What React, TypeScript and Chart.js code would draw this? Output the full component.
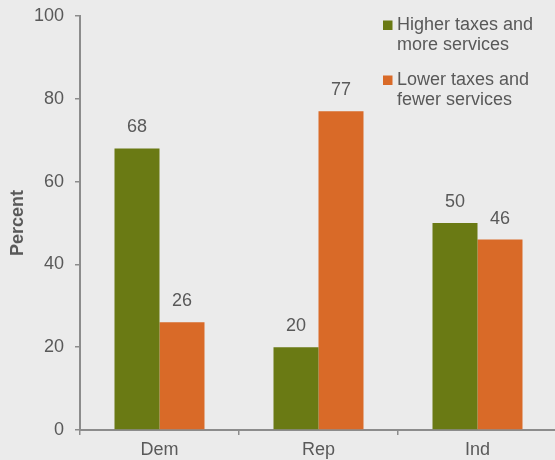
import React, { useEffect, useRef } from "react";
import { Chart, registerables } from "chart.js";

Chart.register(...registerables);

const categories = ["Dem", "Rep", "Ind"];
const higherTaxes = [68, 20, 50];
const lowerTaxes = [26, 77, 46];
const higherLabel = ["Higher taxes and", "more services"];
const lowerLabel = ["Lower taxes and", "fewer services"];
const yTicks = [0, 20, 40, 60, 80, 100];

const GREEN = "#6a7a14";
const ORANGE = "#d96a28";
const TEXT = "#595959";
const AXIS = "#8c8c8c";
const FONT = "Arial, 'Liberation Sans', sans-serif";

const valueLabels = {
  id: "valueLabels",
  afterDatasetsDraw(chart: any) {
    const ctx = chart.ctx;
    ctx.save();
    ctx.font = `18px ${FONT}`;
    ctx.fillStyle = TEXT;
    ctx.textAlign = "center";
    ctx.textBaseline = "middle";
    chart.data.datasets.forEach((ds: any, i: number) => {
      const meta = chart.getDatasetMeta(i);
      meta.data.forEach((bar: any, j: number) => {
        ctx.fillText(String(ds.data[j]), bar.x, bar.y - 21);
      });
    });
    ctx.restore();
  },
};

const customLegend = {
  id: "customLegend",
  afterDraw(chart: any) {
    const ctx = chart.ctx;
    ctx.save();
    ctx.font = `18px ${FONT}`;
    ctx.textBaseline = "middle";
    ctx.textAlign = "left";
    const startY = 25;
    chart.data.datasets.forEach((ds: any, i: number) => {
      const y0 = startY + i * 55;
      ctx.fillStyle = ds.backgroundColor;
      ctx.fillRect(383, y0 - 4.5, 9.5, 9.5);
      ctx.fillStyle = TEXT;
      (ds.label as string[]).forEach((line: string, k: number) => {
        ctx.fillText(line, 397, y0 + k * 20);
      });
    });
    ctx.restore();
  },
};

export default function App() {
  const canvasRef = useRef<HTMLCanvasElement | null>(null);

  useEffect(() => {
    if (!canvasRef.current) return;
    const chart = new Chart(canvasRef.current, {
      type: "bar",
      data: {
        labels: categories,
        datasets: [
          {
            label: higherLabel as any,
            data: higherTaxes,
            backgroundColor: GREEN,
            categoryPercentage: 0.566,
            barPercentage: 1,
          },
          {
            label: lowerLabel as any,
            data: lowerTaxes,
            backgroundColor: ORANGE,
            categoryPercentage: 0.566,
            barPercentage: 1,
          },
        ],
      },
      options: {
        animation: false,
        responsive: false,
        maintainAspectRatio: false,
        layout: { padding: { top: 16, left: 0, right: 0, bottom: 0 } },
        plugins: {
          legend: { display: false },
          tooltip: { enabled: false },
        },
        scales: {
          x: {
            grid: {
              display: true,
              drawOnChartArea: false,
              drawTicks: true,
              tickLength: 5,
              color: AXIS,
              lineWidth: 1.5,
              offset: true,
            },
            border: { color: AXIS, width: 2 },
            ticks: {
              color: TEXT,
              font: { family: FONT, size: 18 },
              padding: 4,
            },
            afterFit: (scale: any) => {
              scale.height = 30;
              scale.paddingLeft = 0;
              scale.paddingRight = 0;
            },
          },
          y: {
            min: 0,
            max: 100,
            afterBuildTicks: (scale: any) => {
              scale.ticks = yTicks.map((v) => ({ value: v }));
            },
            grid: {
              display: true,
              drawOnChartArea: false,
              drawTicks: true,
              tickLength: 5,
              color: AXIS,
              lineWidth: 1.5,
            },
            border: { color: AXIS, width: 2 },
            ticks: {
              color: TEXT,
              font: { family: FONT, size: 18 },
              padding: 11,
            },
            title: {
              display: true,
              text: "Percent",
              color: TEXT,
              font: { family: FONT, size: 18, weight: "bold" },
              padding: { top: 7, bottom: 0 },
            },
            afterFit: (scale: any) => {
              scale.width = 80;
              scale.paddingTop = 0;
              scale.paddingBottom = 0;
            },
          },
        },
      },
      plugins: [valueLabels, customLegend],
    });
    return () => chart.destroy();
  }, []);

  return (
    <div style={{ position: "fixed", left: 0, top: 0, width: 557, height: 460, background: "#ebebeb" }}>
      <canvas ref={canvasRef} width={557} height={460} style={{ display: "block" }} />
    </div>
  );
}
